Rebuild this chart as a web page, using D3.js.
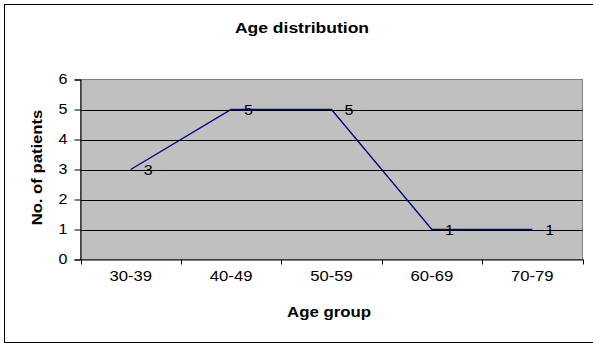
<!DOCTYPE html>
<html><head><meta charset="utf-8">
<script src="https://cdn.jsdelivr.net/npm/d3@7"></script>
<style>body{margin:0;background:#fff}svg{display:block}</style>
</head><body>
<script>
const categories = ["30-39","40-49","50-59","60-69","70-79"];
const patients = [3,5,5,1,1];
const yTicks = [0,1,2,3,4,5,6];
const title = "Age distribution";
const xTitle = "Age group";
const yTitle = "No. of patients";

const W = 593, H = 345;
const svg = d3.select("body").append("svg").attr("width",W).attr("height",H);
svg.append("rect").attr("x",4.5).attr("y",4.5).attr("width",W+10).attr("height",338)
  .attr("fill","#fff").attr("stroke","#000").attr("stroke-width",1);

const L = 80.5, R = 582.5, T = 79.5, B = 259.5;
const x = d3.scaleBand().domain(categories).range([L,R]);
const y = d3.scaleLinear().domain([0,6]).range([B,T]);
const font = "Arial, 'Liberation Sans', sans-serif";
const FS = 14;
function widen(sel, k){
  sel.each(function(){
    const len = this.getComputedTextLength();
    d3.select(this).attr("textLength", len*k).attr("lengthAdjust","spacingAndGlyphs");
  });
}

svg.append("rect").attr("x",L).attr("y",T).attr("width",R-L).attr("height",B-T)
  .attr("fill","#c0c0c0").attr("stroke","#808080").attr("stroke-width",1);

svg.append("g").selectAll("line").data(yTicks.filter(d=>d>0&&d<6)).join("line")
  .attr("x1",L).attr("x2",R).attr("y1",d=>Math.round(y(d))+0.5).attr("y2",d=>Math.round(y(d))+0.5)
  .attr("stroke","#000").attr("stroke-width",1);

const yAxis = svg.append("g").attr("transform",`translate(${L},0)`)
  .call(d3.axisLeft(y).tickValues(yTicks).tickSize(6).tickPadding(7).tickFormat(d3.format("d")));
yAxis.select(".domain").attr("stroke","#000");
yAxis.selectAll("text").attr("font-family",font).attr("font-size",FS).attr("fill","#000").call(widen,1.15);

const xAxis = svg.append("g").attr("transform",`translate(0,${B})`)
  .call(d3.axisBottom(x).tickSize(0).tickPadding(12));
xAxis.select(".domain").attr("stroke","#000");
xAxis.selectAll("text").attr("font-family",font).attr("font-size",FS).attr("fill","#000").call(widen,1.19);
const bounds = categories.map(c=>x(c)).concat([R]);
svg.append("g").selectAll("line").data(bounds).join("line")
  .attr("x1",d=>Math.round(d)+0.5).attr("x2",d=>Math.round(d)+0.5).attr("y1",B).attr("y2",B+5)
  .attr("stroke","#000");

const line = d3.line().x((d,i)=>x(categories[i])+x.bandwidth()/2).y(d=>y(d));
svg.append("path").datum(patients).attr("d",line).attr("fill","none")
  .attr("stroke","#000080").attr("stroke-width",1.3);

svg.append("g").selectAll("text").data(patients).join("text")
  .attr("x",(d,i)=>x(categories[i])+x.bandwidth()/2+13)
  .attr("y",d=>y(d)).attr("dy","0.36em")
  .attr("font-family",font).attr("font-size",FS).attr("fill","#000").text(d=>d).call(widen,1.15);

svg.append("text").attr("x",302).attr("y",33).attr("text-anchor","middle")
  .attr("font-family",font).attr("font-size",FS).attr("font-weight","bold").text(title).call(widen,1.25);
svg.append("text").attr("x",329).attr("y",317).attr("text-anchor","middle")
  .attr("font-family",font).attr("font-size",FS).attr("font-weight","bold").text(xTitle).call(widen,1.2);
svg.append("text").attr("transform",`translate(42,${(T+B)/2-2}) rotate(-90)`).attr("text-anchor","middle")
  .attr("font-family",font).attr("font-size",FS).attr("font-weight","bold").text(yTitle).call(widen,1.19);
</script>
</body></html>
